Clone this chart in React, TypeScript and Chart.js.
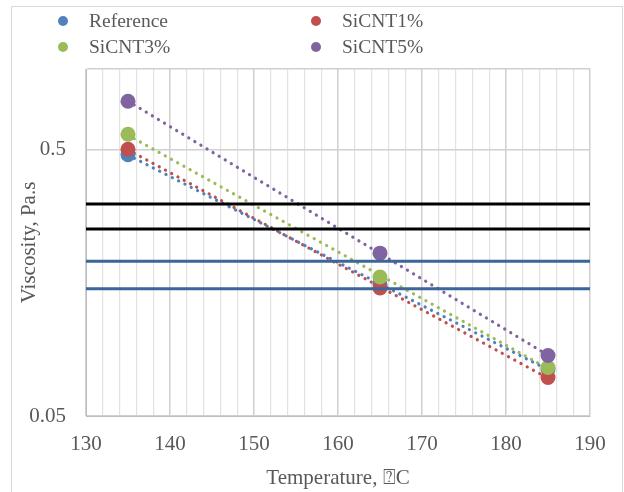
import React, { useEffect, useRef } from 'react';
import { Chart, registerables } from 'chart.js';

Chart.register(...registerables);

// ---- data ----
const seriesNames = ['Reference', 'SiCNT1%', 'SiCNT3%', 'SiCNT5%'];
const seriesColors = ['#4F81BD', '#C0504D', '#9BBB59', '#8064A2'];
const temperatures = [135, 165, 185];
const referenceVisc = [0.477, 0.156, 0.0747];
const sicnt1Visc = [0.5, 0.151, 0.0697];
const sicnt3Visc = [0.569, 0.166, 0.076];
const sicnt5Visc = [0.757, 0.204, 0.0843];
const seriesValues = [referenceVisc, sicnt1Visc, sicnt3Visc, sicnt5Visc];

// exponential trendline end points (at 135 and 185)
const trendX = [135, 185];
const referenceTrend = [0.476, 0.0745];
const sicnt1Trend = [0.498, 0.0693];
const sicnt3Trend = [0.565, 0.0753];
const sicnt5Trend = [0.758, 0.0845];
const trendValues = [referenceTrend, sicnt1Trend, sicnt3Trend, sicnt5Trend];

// horizontal reference lines drawn over the plot
const hLineX = [130, 190];
const blackLevels = [0.3115, 0.251];
const blueLevels = [0.19, 0.15];

const xTickMin = 130;
const xTickMax = 190;
const xTickStep = 2;
const xLabelStep = 10;
const yTickValues = [0.05, 0.5, 1];
const yTickLabels = ['0.05', '0.5', ''];

const xTitle = 'Temperature, \u2370C';
const yTitle = 'Viscosity, Pa.s';

const FONT = "'Liberation Serif', 'Times New Roman', serif";
const TEXT = '#595959';

const legendPlugin = {
  id: 'customLegend',
  afterDraw(chart: any) {
    const ctx = chart.ctx;
    ctx.save();
    const cols = [63, 316];
    const rows = [21, 47];
    seriesNames.forEach((name, i) => {
      const cx = cols[i % 2];
      const cy = rows[Math.floor(i / 2)];
      ctx.beginPath();
      ctx.arc(cx, cy, 5, 0, Math.PI * 2);
      ctx.fillStyle = seriesColors[i];
      ctx.fill();
      ctx.font = `19.5px ${FONT}`;
      ctx.fillStyle = TEXT;
      ctx.textBaseline = 'middle';
      ctx.textAlign = 'left';
      ctx.fillText(name, cx + 26, cy + 1);
    });
    ctx.restore();
  },
};

const borderPlugin = {
  id: 'outerBorder',
  beforeDraw(chart: any) {
    const ctx = chart.ctx;
    ctx.save();
    ctx.fillStyle = '#FFFFFF';
    ctx.fillRect(0, 0, chart.width, chart.height);
    ctx.strokeStyle = '#D9D9D9';
    ctx.lineWidth = 1;
    ctx.strokeRect(11.5, 6.5, 611, 500);
    ctx.restore();
  },
};

const isMajorX = (v: number) => Math.abs(Math.round(v) - v) < 1e-6 && Math.round(v) % xLabelStep === 0;

export default function App() {
  const canvasRef = useRef<HTMLCanvasElement | null>(null);

  useEffect(() => {
    if (!canvasRef.current) return;
    const datasets: any[] = [];

    // horizontal lines (on top)
    blackLevels.forEach((v) => {
      datasets.push({
        type: 'line',
        data: hLineX.map((x) => ({ x, y: v })),
        borderColor: '#000000',
        borderWidth: 3,
        pointRadius: 0,
        order: 0,
      });
    });
    blueLevels.forEach((v) => {
      datasets.push({
        type: 'line',
        data: hLineX.map((x) => ({ x, y: v })),
        borderColor: '#3A6699',
        borderWidth: 3,
        pointRadius: 0,
        order: 0,
      });
    });

    // markers
    seriesNames.forEach((name, i) => {
      datasets.push({
        type: 'scatter',
        label: name,
        data: temperatures.map((t, j) => ({ x: t, y: seriesValues[i][j] })),
        backgroundColor: seriesColors[i],
        borderColor: seriesColors[i],
        pointRadius: 7.5,
        pointBorderWidth: 0,
        showLine: false,
        order: 5 - i,
      });
    });

    // trendlines (bottom)
    seriesNames.forEach((name, i) => {
      datasets.push({
        type: 'line',
        label: name + ' trend',
        data: trendX.map((t, j) => ({ x: t, y: trendValues[i][j] })),
        borderColor: seriesColors[i],
        borderWidth: 3.2,
        borderDash: [0.1, 7],
        borderCapStyle: 'round',
        pointRadius: 0,
        order: 10,
      });
    });

    const chart = new Chart(canvasRef.current, {
      type: 'scatter',
      data: { datasets },
      options: {
        animation: false,
        responsive: false,
        events: [],
        layout: { padding: { left: 0, right: 34, top: 69, bottom: 0 } },
        plugins: {
          legend: { display: false },
          tooltip: { enabled: false },
        },
        scales: {
          x: {
            type: 'linear',
            min: xTickMin,
            max: xTickMax,
            ticks: {
              stepSize: xTickStep,
              autoSkip: false,
              maxRotation: 0,
              padding: 16,
              color: TEXT,
              font: { family: FONT, size: 21 },
              callback: (v: any) => (isMajorX(Number(v)) ? String(v) : ''),
            },
            grid: {
              drawTicks: false,
              color: (c: any) => (c.tick && isMajorX(c.tick.value) ? '#D0D0D0' : '#E2E2E2'),
              lineWidth: (c: any) => (c.tick && isMajorX(c.tick.value) ? 1.5 : 1.2),
            },
            border: { color: '#BFBFBF' },
            title: {
              display: true,
              text: xTitle,
              color: TEXT,
              font: { family: FONT, size: 21 },
              padding: { top: 0, bottom: 1 },
            },
            afterFit: (s: any) => {
              s.height = 76;
            },
          },
          y: {
            type: 'logarithmic',
            min: 0.05,
            max: 1,
            afterBuildTicks: (s: any) => {
              s.ticks = yTickValues.map((v) => ({ value: v }));
            },
            ticks: {
              padding: 20,
              color: TEXT,
              font: { family: FONT, size: 21 },
              callback: (_v: any, i: number) => yTickLabels[i],
            },
            grid: {
              drawTicks: false,
              color: '#D0D0D0',
              lineWidth: 1.5,
            },
            border: { color: '#BFBFBF' },
            title: {
              display: true,
              text: yTitle,
              color: TEXT,
              font: { family: FONT, size: 21 },
              padding: { top: 17, bottom: 0 },
            },
            afterFit: (s: any) => {
              s.width = 86;
            },
          },
        },
      },
      plugins: [borderPlugin, legendPlugin],
    } as any);

    return () => chart.destroy();
  }, []);

  return (
    <div style={{ position: 'absolute', left: 0, top: 0, width: 624, height: 492, background: '#fff' }}>
      <canvas ref={canvasRef} width={624} height={492} style={{ display: 'block' }} />
    </div>
  );
}
